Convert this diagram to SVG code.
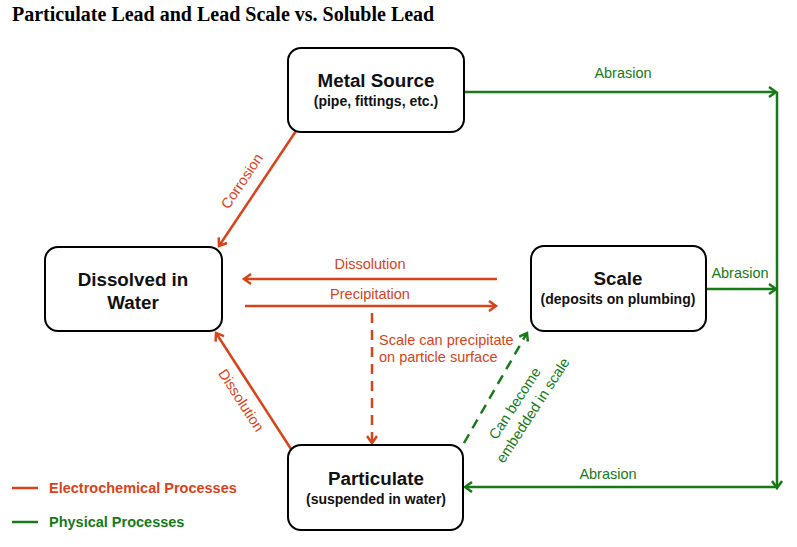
<svg xmlns="http://www.w3.org/2000/svg" width="797" height="547" viewBox="0 0 797 547">
<style>
.box{fill:#fff;stroke:#000;stroke-width:2}
.nt{font-family:"Liberation Sans",Arial,sans-serif;font-weight:bold;fill:#111;text-anchor:middle}
.big{font-size:18.8px}
.sm{font-size:14px}
.r{stroke:#D8431A;stroke-width:2.5;fill:none}
.g{stroke:#177A17;stroke-width:2.5;fill:none}
.rt{font-family:"Liberation Sans",Arial,sans-serif;font-size:14.5px;fill:#D8431A}
.gt{font-family:"Liberation Sans",Arial,sans-serif;font-size:14.5px;fill:#177A17}
</style>
<defs>
<marker id="ar" markerWidth="12" markerHeight="12" refX="9" refY="6" orient="auto" markerUnits="userSpaceOnUse"><path d="M2,1 L9,6 L2,11" fill="none" stroke="#D8431A" stroke-width="2.5"/></marker>
<marker id="ag" markerWidth="12" markerHeight="12" refX="9" refY="6" orient="auto" markerUnits="userSpaceOnUse"><path d="M2,1 L9,6 L2,11" fill="none" stroke="#177A17" stroke-width="2.5"/></marker>
</defs>
<rect width="797" height="547" fill="#fff"/>
<text x="12" y="21" font-family="Liberation Serif,'Times New Roman',serif" font-weight="bold" font-size="20" fill="#000">Particulate Lead and Lead Scale vs. Soluble Lead</text>

<g id="connectors">
<line class="g" x1="464" y1="92" x2="776" y2="92" marker-end="url(#ag)"/>
<line class="g" x1="777" y1="92" x2="777" y2="488" marker-end="url(#ag)"/>
<line class="g" x1="706" y1="289" x2="776" y2="289" marker-end="url(#ag)"/>
<line class="g" x1="777" y1="487" x2="465" y2="487" marker-end="url(#ag)"/>
<line class="r" x1="296" y1="131" x2="219" y2="246" marker-end="url(#ar)"/>
<line class="r" x1="497" y1="279" x2="244" y2="279" marker-end="url(#ar)"/>
<line class="r" x1="245" y1="306" x2="496" y2="306" marker-end="url(#ar)"/>
<line class="r" x1="372" y1="313" x2="372" y2="443" stroke-dasharray="10,7" marker-end="url(#ar)"/>
<line class="r" x1="291" y1="449" x2="216" y2="333" marker-end="url(#ar)"/>
<line class="g" x1="464" y1="443" x2="527" y2="333" stroke-dasharray="10,7" marker-end="url(#ag)"/>
<text class="gt" x="623" y="78" text-anchor="middle">Abrasion</text>
<text class="gt" x="740" y="278" text-anchor="middle">Abrasion</text>
<text class="gt" x="608" y="479" text-anchor="middle">Abrasion</text>
<text class="rt" x="370" y="269" text-anchor="middle">Dissolution</text>
<text class="rt" x="370" y="299" text-anchor="middle">Precipitation</text>
<text class="rt" x="379" y="345">Scale can precipitate</text>
<text class="rt" x="379" y="362">on particle surface</text>
<text class="rt" transform="translate(246,184) rotate(-56)" text-anchor="middle">Corrosion</text>
<text class="rt" transform="translate(237,403) rotate(57)" text-anchor="middle">Dissolution</text>
<text class="gt" transform="translate(519,406) rotate(-57)" text-anchor="middle">Can become</text>
<text class="gt" transform="translate(537,413) rotate(-57)" text-anchor="middle">embedded in scale</text>
</g>

<g id="metal-source">
<rect class="box" x="288" y="48" width="176" height="84" rx="13"/>
<text class="nt big" x="376" y="87">Metal Source</text>
<text class="nt sm" x="376" y="106">(pipe, fittings, etc.)</text>
</g>
<g id="dissolved">
<rect class="box" x="45" y="247" width="177" height="84" rx="13"/>
<text class="nt big" x="133" y="286">Dissolved in</text>
<text class="nt big" x="133" y="309">Water</text>
</g>
<g id="scale">
<rect class="box" x="531" y="246" width="175" height="85" rx="13"/>
<text class="nt big" x="618" y="285">Scale</text>
<text class="nt sm" x="618" y="304">(deposits on plumbing)</text>
</g>
<g id="particulate">
<rect class="box" x="288" y="445" width="175" height="85" rx="13"/>
<text class="nt big" x="376" y="485">Particulate</text>
<text class="nt sm" x="376" y="504">(suspended in water)</text>
</g>

<g id="legend">
<line x1="12" y1="488" x2="38" y2="488" stroke="#D8431A" stroke-width="2.5"/>
<text x="49" y="493" font-family="Liberation Sans,Arial,sans-serif" font-weight="bold" font-size="14.5" fill="#D8431A">Electrochemical Processes</text>
<line x1="12" y1="522" x2="38" y2="522" stroke="#177A17" stroke-width="2.5"/>
<text x="49" y="527" font-family="Liberation Sans,Arial,sans-serif" font-weight="bold" font-size="14.5" fill="#177A17">Physical Processes</text>
</g>
</svg>
